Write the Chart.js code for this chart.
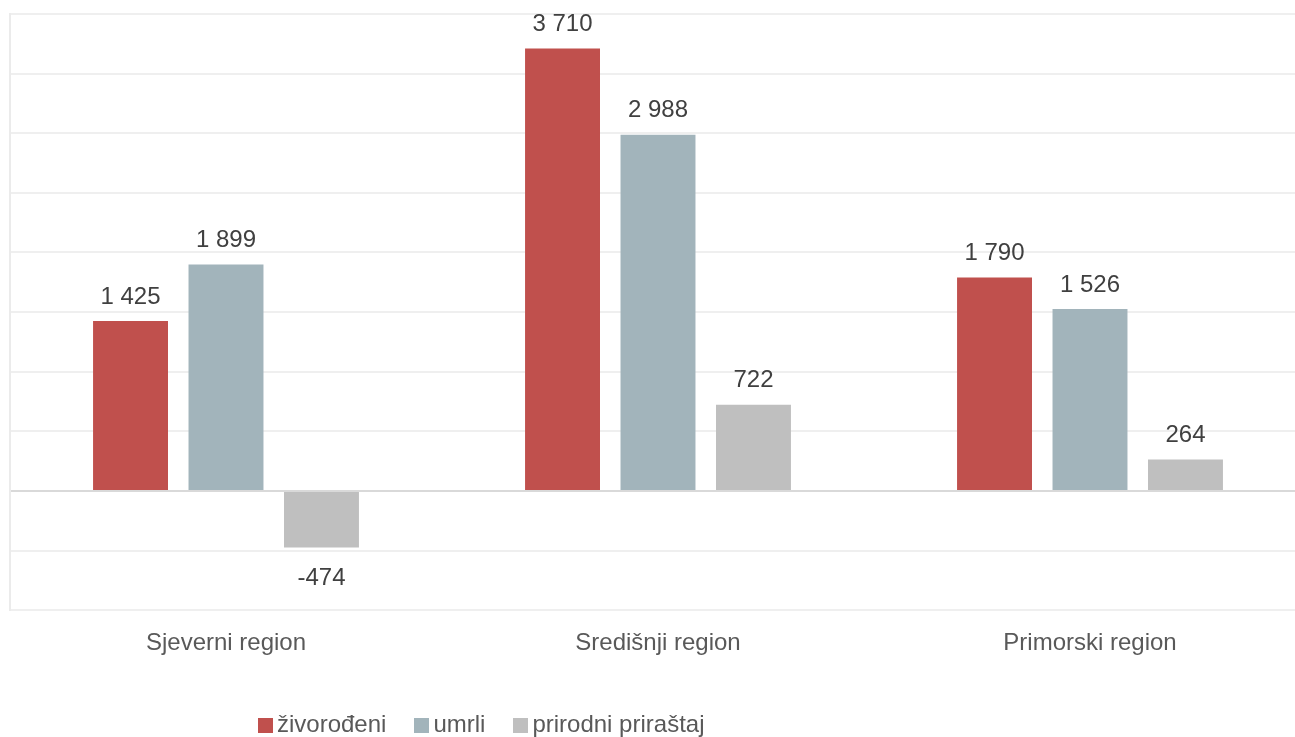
<!DOCTYPE html>
<html>
<head>
<meta charset="utf-8">
<script src="https://cdn.jsdelivr.net/npm/chart.js@4.4.1/dist/chart.umd.min.js"></script>
<style>
  html, body { margin: 0; padding: 0; background: #fff; overflow: hidden; }
  #wrap { position: relative; width: 1306px; height: 737px; }
  #legend {
    position: absolute; left: 258px; top: 710px; line-height: 28px;
    font-family: "Liberation Sans", Arial, sans-serif; font-size: 24px; color: #595959;
    white-space: nowrap;
  }
  #legend span.item { margin-right: 28px; }
  #legend span.box { display: inline-block; width: 15px; height: 15px; margin-right: 4px; vertical-align: -1px; }
</style>
</head>
<body>
<div id="wrap">
  <canvas id="RegionChart" width="1306" height="737"></canvas>
  <div id="legend"></div>
</div>
<script>
// Data
const regions = ['Sjeverni region', 'Središnji region', 'Primorski region'];
const seriesNames = ['živorođeni', 'umrli', 'prirodni priraštaj'];
const zivorodeni = [1425, 3710, 1790];
const umrli = [1899, 2988, 1526];
const prirast = [-474, 722, 264];
const seriesColors = ['#c0504d', '#a2b4bb', '#bfbfbf'];

function fmt(v) {
    const s = String(Math.abs(v)).replace(/\B(?=(\d{3})+(?!\d))/g, ' ');
    return (v < 0 ? '-' : '') + s;
}

// simple value labels above / below each bar
const barLabels = {
    id: 'barLabels',
    afterDatasetsDraw(chart) {
        const ctx = chart.ctx;
        ctx.save();
        ctx.font = '24px "Liberation Sans", Arial, sans-serif';
        ctx.fillStyle = '#404040';
        ctx.textAlign = 'center';
        ctx.textBaseline = 'middle';
        chart.data.datasets.forEach((ds, i) => {
            chart.getDatasetMeta(i).data.forEach((bar, j) => {
                const v = ds.data[j];
                const y = v >= 0 ? bar.y - 24 : bar.y + 31;
                ctx.fillText(fmt(v), bar.x, y);
            });
        });
        ctx.restore();
    }
};

const datasets = [zivorodeni, umrli, prirast].map((d, i) => ({
    label: seriesNames[i],
    data: d,
    backgroundColor: seriesColors[i],
    borderWidth: 0,
    barPercentage: 0.785,
    categoryPercentage: 0.663
}));

const ctx = document.getElementById('RegionChart').getContext('2d');
new Chart(ctx, {
    type: 'bar',
    data: { labels: regions, datasets: datasets },
    options: {
        responsive: false,
        animation: false,
        layout: { padding: { left: 10, top: 14, right: 0, bottom: 68 } },
        plugins: {
            legend: { display: false },
            tooltip: { enabled: false }
        },
        scales: {
            x: {
                grid: { display: false },
                border: { display: false },
                ticks: {
                    padding: 11,
                    color: '#595959',
                    font: { family: '"Liberation Sans", Arial, sans-serif', size: 24 }
                }
            },
            y: {
                min: -1000,
                max: 4000,
                ticks: { stepSize: 500, display: false },
                grid: {
                    lineWidth: 2,
                    drawTicks: false,
                    color: (c) => c.tick && c.tick.value === 0 ? '#d9d9d9' : '#efefef'
                },
                border: { display: true, color: '#ebebeb', width: 2 }
            }
        }
    },
    plugins: [barLabels]
});

// legend as html
const legend = document.getElementById('legend');
seriesNames.forEach((name, i) => {
    const item = document.createElement('span');
    item.className = 'item';
    const box = document.createElement('span');
    box.className = 'box';
    box.style.background = seriesColors[i];
    item.appendChild(box);
    item.appendChild(document.createTextNode(name));
    legend.appendChild(item);
});
</script>
</body>
</html>
